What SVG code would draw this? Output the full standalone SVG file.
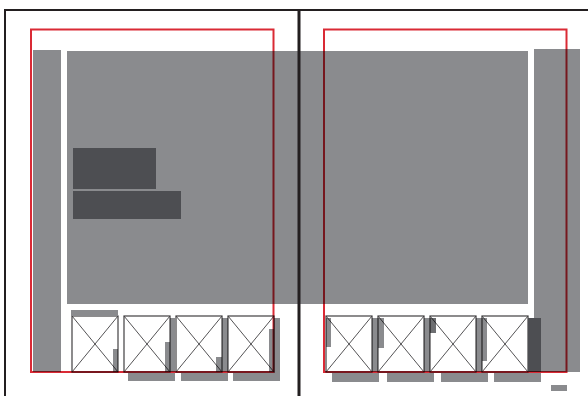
<svg xmlns="http://www.w3.org/2000/svg" width="588" height="396" viewBox="0 0 588 396">
<style>
.g{fill:#8a8b8e}
.d{fill:#4d4e52}
.m{fill:#8a8b8e;mix-blend-mode:multiply}
.md{fill:#6d6e71;mix-blend-mode:multiply}
.box rect{fill:#fff;stroke:#414042;stroke-width:1.2}
.box path{stroke:#414042;stroke-width:0.9;fill:none}
.red{fill:none;stroke:#da2a35;stroke-width:2;mix-blend-mode:multiply}
.frame{fill:none;stroke:#231f20}
</style>
<rect width="588" height="396" fill="#fff"/>
<g id="columns">
<rect class="g" x="33" y="50" width="28" height="322"/>
<rect class="g" x="67" y="51" width="461" height="253"/>
<rect class="g" x="534" y="49" width="46" height="323"/>
</g>
<g id="headline">
<rect class="d" x="73" y="148" width="83" height="41"/>
<rect class="d" x="73" y="191" width="108" height="28"/>
</g>
<g id="images" class="box">
<rect x="72" y="316" width="46" height="56"/><path d="M72 316L118 372M118 316L72 372"/>
<rect x="124" y="316" width="46" height="56"/><path d="M124 316L170 372M170 316L124 372"/>
<rect x="176" y="316" width="46" height="56"/><path d="M176 316L222 372M222 316L176 372"/>
<rect x="228" y="316" width="46" height="56"/><path d="M228 316L274 372M274 316L228 372"/>
<rect x="326" y="316" width="46" height="56"/><path d="M326 316L372 372M372 316L326 372"/>
<rect x="378" y="316" width="46" height="56"/><path d="M378 316L424 372M424 316L378 372"/>
<rect x="430" y="316" width="46" height="56"/><path d="M430 316L476 372M476 316L430 372"/>
<rect x="482" y="316" width="46" height="56"/><path d="M482 316L528 372M528 316L482 372"/>
</g>
<g id="captions">
<rect class="g" x="71" y="310" width="47" height="6"/>
<rect class="m" x="113" y="349" width="5" height="23"/>
<rect class="m" x="170" y="318" width="5" height="54"/>
<rect class="m" x="165" y="342" width="5" height="30"/>
<rect class="g" x="128" y="373" width="47" height="8"/>
<rect class="m" x="222" y="318" width="6" height="54"/>
<rect class="m" x="216" y="357" width="6" height="15"/>
<rect class="g" x="181" y="373" width="47" height="8"/>
<rect class="m" x="274" y="318" width="6" height="55"/>
<rect class="m" x="269" y="329" width="5" height="43"/>
<rect class="g" x="233" y="373" width="47" height="8"/>
<rect class="m" x="326" y="318" width="5" height="29"/>
<rect class="m" x="372" y="318" width="6" height="54"/>
<rect class="m" x="378" y="318" width="6" height="30"/>
<rect class="m" x="424" y="318" width="6" height="54"/>
<rect class="md" x="430" y="318" width="6" height="15"/>
<rect class="m" x="476" y="318" width="6" height="54"/>
<rect class="m" x="482" y="318" width="5" height="43"/>
<rect class="d" x="528" y="318" width="13" height="54"/>
<rect class="g" x="332" y="373" width="47" height="9"/>
<rect class="g" x="387" y="373" width="47" height="9"/>
<rect class="g" x="441" y="373" width="47" height="9"/>
<rect class="g" x="494" y="373" width="47" height="9"/>
<rect class="g" x="551" y="385" width="16" height="6"/>
</g>
<g id="margins">
<rect class="red" x="31" y="29.5" width="242.5" height="342.5"/>
<rect class="red" x="324" y="29.5" width="242.5" height="342.5"/>
</g>
<g id="frame">
<path class="frame" stroke-width="2" d="M5 396V10H588"/>
<path class="frame" stroke-width="3" d="M299 10V396"/>
</g>
</svg>
